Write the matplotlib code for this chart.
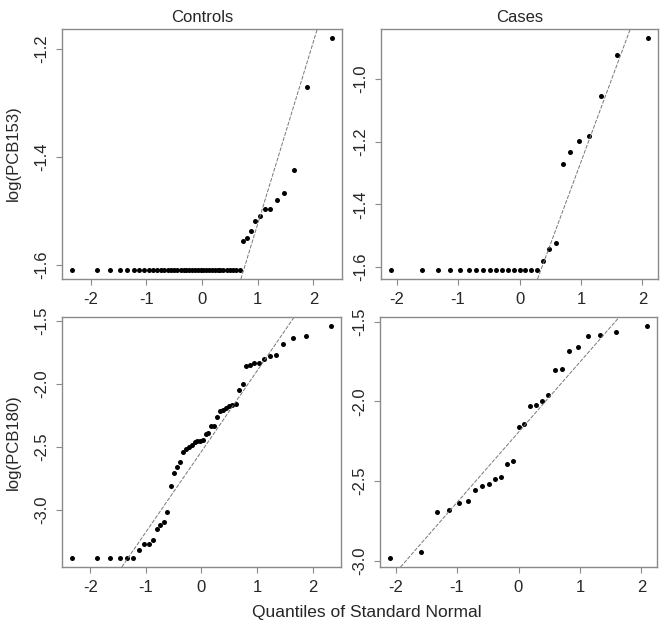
"""
Normal Q-Q plots of log PCB levels, controls vs cases (2 x 2 panels).
"""

from statistics import NormalDist

import matplotlib
matplotlib.use("Agg")
import matplotlib.pyplot as plt

# sorted sample values
pcb153_controls = [-1.609] * 38 + [
    -1.556, -1.551, -1.537, -1.519, -1.510, -1.497,
    -1.497, -1.479, -1.466, -1.424, -1.271, -1.180,
]
pcb153_cases = [-1.609] * 17 + [
    -1.581, -1.543, -1.525, -1.271, -1.232,
    -1.198, -1.181, -1.053, -0.921, -0.869,
]
pcb180_controls = [
    -3.383, -3.383, -3.383, -3.383, -3.383, -3.383, -3.324, -3.271, -3.271, -3.245,
    -3.152, -3.125, -3.100, -3.016, -2.814, -2.707, -2.665, -2.620, -2.545, -2.521,
    -2.503, -2.484, -2.465, -2.457, -2.455, -2.452, -2.399, -2.391, -2.335, -2.335,
    -2.266, -2.218, -2.210, -2.191, -2.181, -2.168, -2.160, -2.051, -2.003, -1.864,
    -1.854, -1.838, -1.838, -1.806, -1.785, -1.771, -1.684, -1.638, -1.620, -1.545,
]
pcb180_cases = [
    -2.982, -2.944, -2.694, -2.681, -2.637, -2.625, -2.559, -2.534, -2.522,
    -2.486, -2.473, -2.395, -2.372, -2.162, -2.141, -2.027, -2.023, -2.000,
    -1.962, -1.804, -1.800, -1.687, -1.659, -1.590, -1.584, -1.563, -1.529,
]

# reference lines (intercept, slope)
line_pcb153_controls = (-1.862, 0.338)
line_pcb153_cases = (-1.794, 0.530)
line_pcb180_controls = (-2.539, 0.639)
line_pcb180_cases = (-2.194, 0.441)

col_titles = ["Controls", "Cases"]
row_labels = ["log(PCB153)", "log(PCB180)"]
x_ticks = [-2, -1, 0, 1, 2]
y_ticks_153_controls = [-1.6, -1.4, -1.2]
y_ticks_153_cases = [-1.6, -1.4, -1.2, -1.0]
y_ticks_180 = [-3.0, -2.5, -2.0, -1.5]

TEXT = "#262626"
FRAME = "#8a8a8a"
plt.rcParams["font.family"] = ["Liberation Sans", "DejaVu Sans"]
plt.rcParams["axes.unicode_minus"] = False


def normal_quantiles(n):
    """Theoretical quantiles as R's qqnorm (ppoints) gives them."""
    a = 3 / 8 if n <= 10 else 0.5
    return [NormalDist().inv_cdf((i - a) / (n + 1 - 2 * a)) for i in range(1, n + 1)]


def padded(lo, hi, frac=0.04):
    ext = (hi - lo) * frac
    return lo - ext, hi + ext


def qq_panel(ax, values, line, yticks):
    x = normal_quantiles(len(values))
    ax.plot(x, values, "o", color="black", markersize=3.6, markeredgewidth=0)
    ax.set_xlim(*padded(min(x), max(x)))
    ax.set_ylim(*padded(min(values), max(values)))
    ax.axline((0, line[0]), slope=line[1], color="#777777", lw=0.7,
              linestyle=(0, (4, 1.5)))
    ax.set_xticks(x_ticks)
    ax.set_yticks(yticks)
    ax.set_yticklabels([f"{t:.1f}" for t in yticks])
    ax.tick_params(direction="out", length=4, width=0.8, color=FRAME,
                   labelsize=12, labelcolor=TEXT, pad=5)
    plt.setp(ax.get_yticklabels(), rotation=90, va="center")
    for s in ax.spines.values():
        s.set_color(FRAME)
        s.set_linewidth(1.0)


W, H = 664, 630
fig = plt.figure(figsize=(W / 100, H / 100), dpi=100)
fig.patch.set_facecolor("white")

boxes = [
    (62, 29, 342, 279), (381, 29, 658, 279),
    (62, 317, 341, 567), (380, 317, 657, 567),
]
axes = [fig.add_axes([l / W, 1 - b / H, (r - l) / W, (b - t) / H]) for l, t, r, b in boxes]

qq_panel(axes[0], pcb153_controls, line_pcb153_controls, y_ticks_153_controls)
qq_panel(axes[1], pcb153_cases, line_pcb153_cases, y_ticks_153_cases)
qq_panel(axes[2], pcb180_controls, line_pcb180_controls, y_ticks_180)
qq_panel(axes[3], pcb180_cases, line_pcb180_cases, y_ticks_180)

for ax, title in zip(axes[:2], col_titles):
    ax.set_title(title, fontsize=12, color=TEXT, pad=5)

fig.text(13 / W, 1 - 153 / H, row_labels[0], rotation=90, ha="center", va="center",
         fontsize=12, color=TEXT)
fig.text(13 / W, 1 - 442 / H, row_labels[1], rotation=90, ha="center", va="center",
         fontsize=12, color=TEXT)
fig.text(367 / W, 1 - 612 / H, "Quantiles of Standard Normal", ha="center", va="center",
         fontsize=12.5, color=TEXT)

fig.savefig("out.png", dpi=100, facecolor="white")
